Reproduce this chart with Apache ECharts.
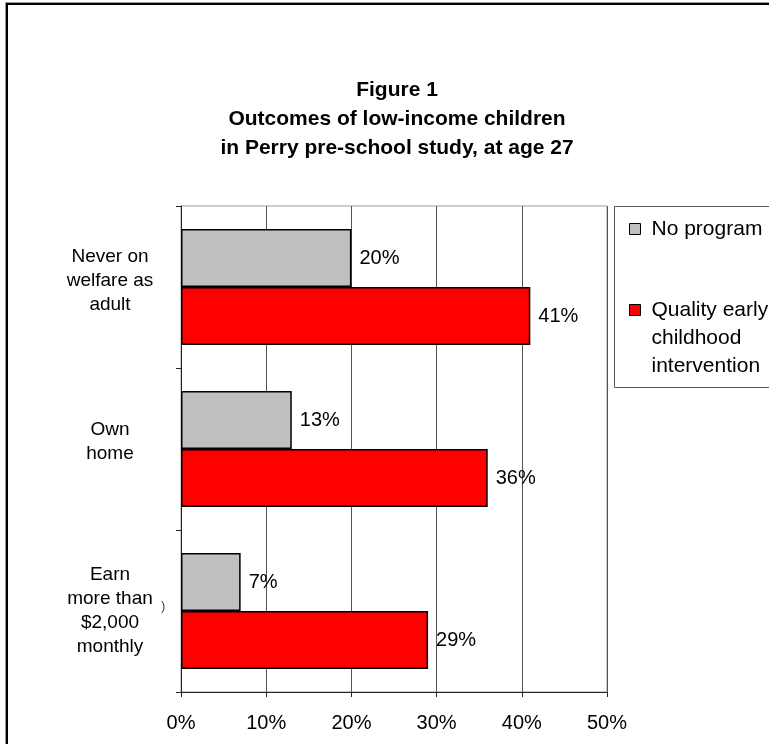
<!DOCTYPE html>
<html>
<head>
<meta charset="utf-8">
<script src="https://cdn.jsdelivr.net/npm/echarts@6/dist/echarts.min.js"></script>
<style>
html,body{margin:0;padding:0;background:#fff;}
#chart{width:769px;height:744px;}
</style>
</head>
<body>
<div id="chart"></div>
<script>
const titleLines = ['Figure 1', 'Outcomes of low-income children', 'in Perry pre-school study, at age 27'];
const categories = ['Never on\nwelfare as\nadult', 'Own\nhome', 'Earn\nmore than\n$2,000\nmonthly'];
const seriesNames = ['No program', 'Quality early childhood intervention'];
const legendLines = [['No program'], ['Quality early', 'childhood', 'intervention']];
const noProgram = [20, 13, 7];
const intervention = [41, 36, 29];

const FONT = '"Liberation Sans", Arial, sans-serif';
const chart = echarts.init(document.getElementById('chart'), null, {renderer: 'canvas'});

const spacerStyle = ['sp12', 'sp15', 'sp0'];

function legendText(lines) {
  // leading blank lines keep the first text line level with the icon
  const pad = [];
  for (let i = 1; i < lines.length; i++) pad.push('');
  return pad.concat(lines.map(l => '{s|}' + l)).join('\n');
}

const legendBase = {
  padding: 0,
  itemWidth: 11, itemHeight: 11,
  icon: 'rect',
  selectedMode: false,
  itemStyle: {borderColor: '#000', borderWidth: 1},
  textStyle: {fontFamily: FONT, fontSize: 21, lineHeight: 28, color: '#000', rich: {s: {width: 6}}}
};

const option = {
  animation: false,
  backgroundColor: '#fff',
  textStyle: {fontFamily: FONT},
  title: {
    text: titleLines.join('\n'),
    left: 392,
    top: 71,
    textAlign: 'center',
    textStyle: {fontFamily: FONT, fontWeight: 'bold', fontSize: 21, lineHeight: 29, color: '#000'}
  },
  legend: [
    Object.assign({}, legendBase, {
      data: [seriesNames[0]], left: 629, top: 215,
      formatter: function () { return legendText(legendLines[0]); }
    }),
    Object.assign({}, legendBase, {
      data: [seriesNames[1]], left: 629, top: 240,
      formatter: function () { return legendText(legendLines[1]); }
    })
  ],
  grid: {
    left: 181, right: 162, top: 206, bottom: 52,
    show: true, borderColor: '#9a9a9a', borderWidth: 1, backgroundColor: 'transparent'
  },
  xAxis: {
    type: 'value', min: 0, max: 50, interval: 10,
    axisLine: {show: true, lineStyle: {color: '#222', width: 1}},
    axisTick: {show: true, length: 5, lineStyle: {color: '#222'}},
    splitLine: {show: true, lineStyle: {color: '#555', width: 1}},
    axisLabel: {formatter: '{value}%', fontFamily: FONT, fontSize: 20, color: '#000', margin: 21}
  },
  yAxis: {
    type: 'category', inverse: true,
    data: categories,
    axisLine: {show: true, lineStyle: {color: '#222', width: 1}},
    axisTick: {show: true, length: 5, lineStyle: {color: '#222'}},
    splitLine: {show: false},
    axisLabel: {
      fontFamily: FONT, fontSize: 19, lineHeight: 24, color: '#000', margin: 71, align: 'center',
      formatter: function (value, index) {
        return value + '\n{' + spacerStyle[index] + '| }';
      },
      rich: {
        sp12: {fontSize: 1, lineHeight: 12},
        sp15: {fontSize: 1, lineHeight: 15},
        sp0: {fontSize: 1, lineHeight: 0}
      }
    }
  },
  series: [
    {
      name: seriesNames[0], type: 'bar', data: noProgram,
      barWidth: 58, barGap: '0%',
      itemStyle: {color: '#C0C0C0', borderColor: '#000', borderWidth: 1.5},
      label: {show: true, position: 'right', distance: 8, formatter: '{c}%', fontFamily: FONT, fontSize: 20, color: '#000'}
    },
    {
      name: seriesNames[1], type: 'bar', data: intervention,
      barWidth: 58, barGap: '0%',
      itemStyle: {color: '#FF0000', borderColor: '#000', borderWidth: 1.5},
      label: {show: true, position: 'right', distance: 8, formatter: '{c}%', fontFamily: FONT, fontSize: 20, color: '#000'}
    }
  ],
  graphic: [
    {type: 'rect', shape: {x: 7, y: 4, width: 900, height: 900}, style: {fill: 'none', stroke: '#000', lineWidth: 2}, silent: true, z: 10},
    {type: 'rect', shape: {x: 5.5, y: 2.5, width: 900, height: 900}, style: {fill: 'none', stroke: '#999', lineWidth: 1}, silent: true, z: 10},
    {type: 'rect', shape: {x: 614.5, y: 206.5, width: 300, height: 181}, style: {fill: '#fff', stroke: '#555', lineWidth: 1}, silent: true, z: -1},
    {type: 'text', x: 161, y: 600, style: {text: ')', fontSize: 13, fontFamily: FONT, fill: '#444'}, silent: true}
  ]
};
chart.setOption(option);
</script>
</body>
</html>
